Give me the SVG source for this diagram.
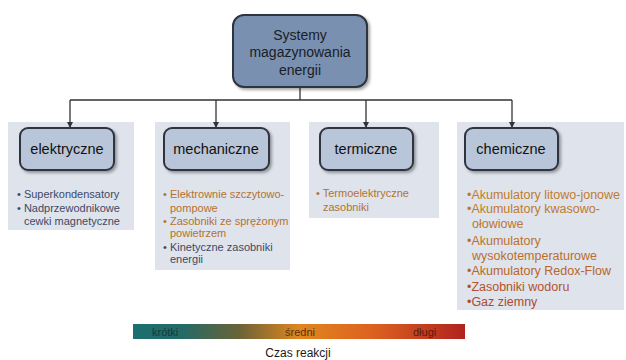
<svg xmlns="http://www.w3.org/2000/svg" width="626" height="360" viewBox="0 0 626 360">
<style>
text{font-family:"Liberation Sans",Arial,sans-serif}
.panel{fill:#dfe3ec}
.cat{fill:#b9c5d8;stroke:#2f3440;stroke-width:2}
.catt{font-size:14.5px;fill:#111;text-anchor:middle}
.conn{stroke:#333;stroke-width:1.3;fill:none}
.b{font-size:11px;fill:#3d4a66}
.o{font-size:11px;fill:#b5722e}
.c{font-size:12.5px}
</style>
<defs>
<filter id="sh" x="-20%" y="-20%" width="140%" height="150%">
<feDropShadow dx="2" dy="2" stdDeviation="1.5" flood-color="#000" flood-opacity="0.35"/>
</filter>
<marker id="ar" viewBox="0 0 6 6" refX="5" refY="3" markerWidth="5" markerHeight="5" orient="auto">
<path d="M0,0 L6,3 L0,6 z" fill="#333"/>
</marker>
<linearGradient id="gr" x1="0" y1="0" x2="1" y2="0">
<stop offset="0" stop-color="#1d6f70"/>
<stop offset="0.15" stop-color="#246a66"/>
<stop offset="0.32" stop-color="#6a6338"/>
<stop offset="0.5" stop-color="#e0861f"/>
<stop offset="0.72" stop-color="#dc6220"/>
<stop offset="1" stop-color="#b0221e"/>
</linearGradient>
</defs>
<rect width="626" height="360" fill="#fff"/>

<g id="panels">
<rect class="panel" x="8" y="122" width="126" height="108"/>
<rect class="panel" x="155" y="122" width="135" height="148"/>
<rect class="panel" x="309" y="122" width="130" height="96"/>
<rect class="panel" x="457" y="122" width="167" height="188"/>
</g>

<g id="connectors">
<path class="conn" d="M300,87 V100 M70,100 H512"/>
<path class="conn" d="M70,100 V127" marker-end="url(#ar)"/>
<path class="conn" d="M216,100 V127" marker-end="url(#ar)"/>
<path class="conn" d="M366,100 V127" marker-end="url(#ar)"/>
<path class="conn" d="M512,100 V127" marker-end="url(#ar)"/>
</g>

<g id="root">
<rect x="233" y="15" width="134" height="72" rx="11" fill="#7990b1" stroke="#2f3440" stroke-width="2" filter="url(#sh)"/>
<text x="300" y="40" font-size="14" fill="#1a1d26" text-anchor="middle">Systemy</text>
<text x="300" y="57" font-size="14" fill="#1a1d26" text-anchor="middle">magazynowania</text>
<text x="300" y="75" font-size="14" fill="#1a1d26" text-anchor="middle">energii</text>
</g>

<g id="elektryczne">
<rect class="cat" x="20" y="128" width="94" height="42" rx="8" filter="url(#sh)"/>
<text class="catt" x="67" y="154">elektryczne</text>
<text class="b" x="17" y="198">• Superkondensatory</text>
<text class="b" x="17" y="212">• Nadprzewodnikowe</text>
<text class="b" x="24" y="225">cewki magnetyczne</text>
</g>

<g id="mechaniczne">
<rect class="cat" x="164" y="128" width="105" height="42" rx="8" filter="url(#sh)"/>
<text class="catt" x="216" y="154">mechaniczne</text>
<text class="o" x="163" y="198">• Elektrownie szczytowo-</text>
<text class="o" x="170" y="212">pompowe</text>
<text class="o" x="163" y="225">• Zasobniki ze sprężonym</text>
<text class="o" x="170" y="237">powietrzem</text>
<text class="b" x="163" y="251">• Kinetyczne zasobniki</text>
<text class="b" x="170" y="263">energii</text>
</g>

<g id="termiczne">
<rect class="cat" x="320" y="128" width="93" height="42" rx="8" filter="url(#sh)"/>
<text class="catt" x="366" y="154">termiczne</text>
<text class="o" x="316" y="197">• Termoelektryczne</text>
<text class="o" x="323" y="211">zasobniki</text>
</g>

<g id="chemiczne">
<rect class="cat" x="465" y="128" width="93" height="42" rx="8" filter="url(#sh)"/>
<text class="catt" x="511" y="154">chemiczne</text>
<text class="c" x="467" y="199" fill="#c07c2c">•Akumulatory litowo-jonowe</text>
<text class="c" x="467" y="213" fill="#bf7a2c">•Akumulatory kwasowo-</text>
<text class="c" x="472" y="228" fill="#bd762c">ołowiowe</text>
<text class="c" x="467" y="245" fill="#bb722c">•Akumulatory</text>
<text class="c" x="472" y="260" fill="#b96e2c">wysokotemperaturowe</text>
<text class="c" x="467" y="275" fill="#b8662a">•Akumulatory Redox-Flow</text>
<text class="c" x="467" y="291" fill="#b4522a">•Zasobniki wodoru</text>
<text class="c" x="467" y="306" fill="#ae4a2c">•Gaz ziemny</text>
</g>

<g id="scale">
<rect x="133" y="324" width="332" height="15" fill="url(#gr)"/>
<text x="152" y="336" font-size="11" fill="#143a3a">krótki</text>
<text x="300" y="336" font-size="11" fill="#5a3210" text-anchor="middle">średni</text>
<text x="413" y="336" font-size="11" fill="#5a1a10">długi</text>
<text x="298" y="357" font-size="12" fill="#1a1a1a" text-anchor="middle">Czas reakcji</text>
</g>
</svg>
